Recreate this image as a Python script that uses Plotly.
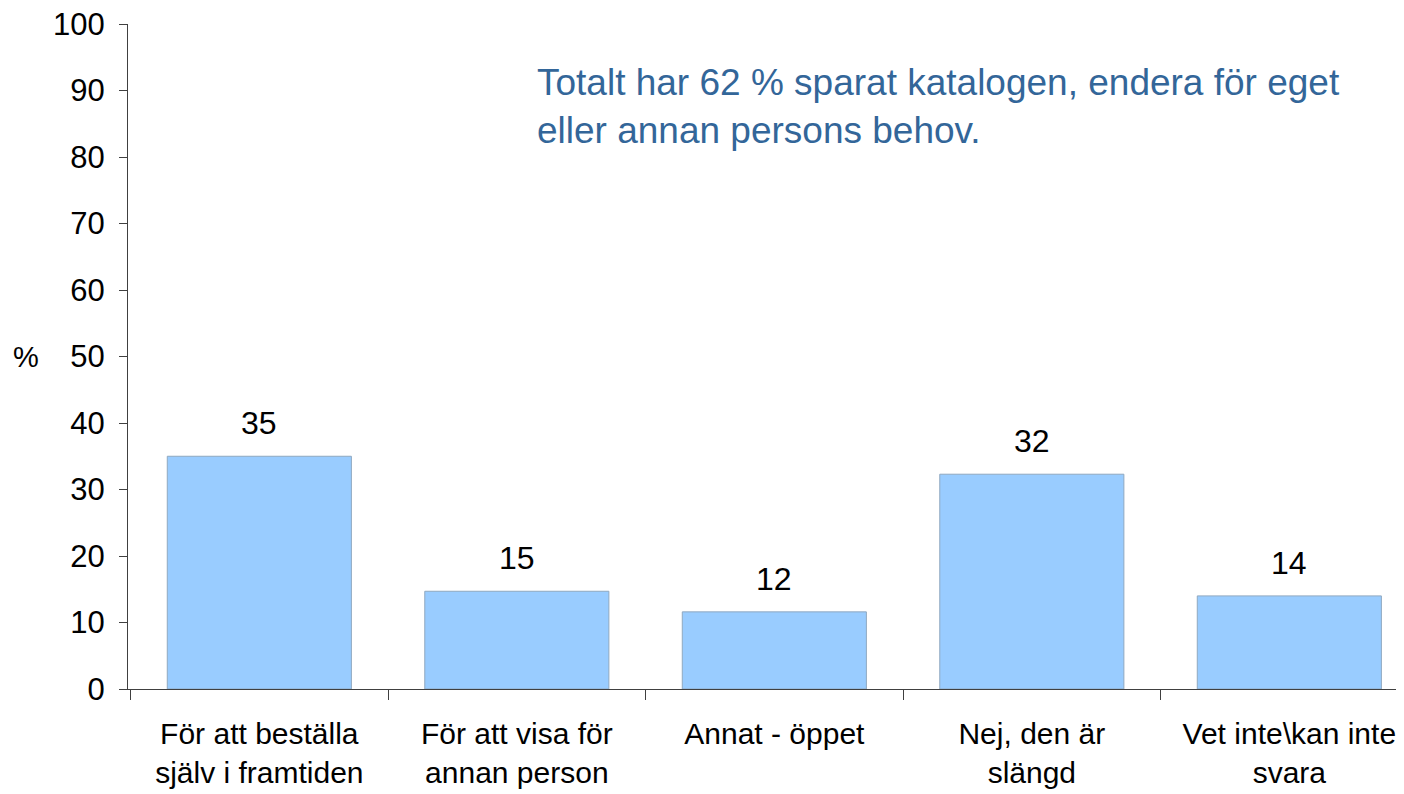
import plotly.graph_objects as go

categories = ["För att beställa<br>själv i framtiden", "För att visa för<br>annan person",
              "Annat - öppet", "Nej, den är<br>slängd", "Vet inte\\kan inte<br>svara"]
values = [35.0, 14.7, 11.6, 32.3, 14.0]
value_labels = ["35", "15", "12", "32", "14"]
y_ticks = [0, 10, 20, 30, 40, 50, 60, 70, 80, 90, 100]

FONT = "Liberation Sans, Arial, sans-serif"

fig = go.Figure()
fig.add_trace(go.Bar(
    x=categories, y=values, width=0.715,
    marker=dict(color="#99CCFF", line=dict(color="#8FA8C0", width=1)),
    hoverinfo="skip",
))

for c, v, t in zip(categories, values, value_labels):
    fig.add_annotation(x=c, y=v, text=t, showarrow=False, yanchor="bottom",
                       yshift=13, font=dict(family=FONT, size=32, color="#000000"))

fig.add_annotation(xref="paper", yref="y", x=-0.0794, y=50, text="%", showarrow=False,
                   xanchor="center", yanchor="middle",
                   font=dict(family=FONT, size=29, color="#000000"))

fig.add_annotation(xref="paper", yref="paper", x=0.3170, y=0.9459,
                   text="Totalt har 62 % sparat katalogen, endera för eget<br>eller annan persons behov.",
                   showarrow=False, xanchor="left", yanchor="top", align="left",
                   font=dict(family=FONT, size=37, color="#336699"))

fig.update_layout(
    width=1404, height=794,
    margin=dict(l=120, r=0, t=16, b=113),
    plot_bgcolor="white", paper_bgcolor="white",
    showlegend=False,
    xaxis=dict(
        type="category",
        range=[-0.51, 4.4764],
        tickson="boundaries",
        showline=True, linecolor="#404040", linewidth=1,
        ticks="outside", ticklen=10, tickcolor="#404040",
        ticklabelstandoff=18,
        ticklabeloverflow="allow",
        showgrid=False, zeroline=False,
        tickfont=dict(family=FONT, size=30, color="#000000"),
        fixedrange=True,
    ),
    yaxis=dict(
        range=[0, 100], tickmode="array", tickvals=y_ticks,
        showline=True, linecolor="#404040", linewidth=1,
        ticks="outside", ticklen=8, tickcolor="#404040",
        ticklabelstandoff=8,
        ticklabeloverflow="allow",
        showgrid=False, zeroline=False,
        tickfont=dict(family=FONT, size=31, color="#000000"),
        fixedrange=True,
    ),
)

fig.write_html("out.html")
